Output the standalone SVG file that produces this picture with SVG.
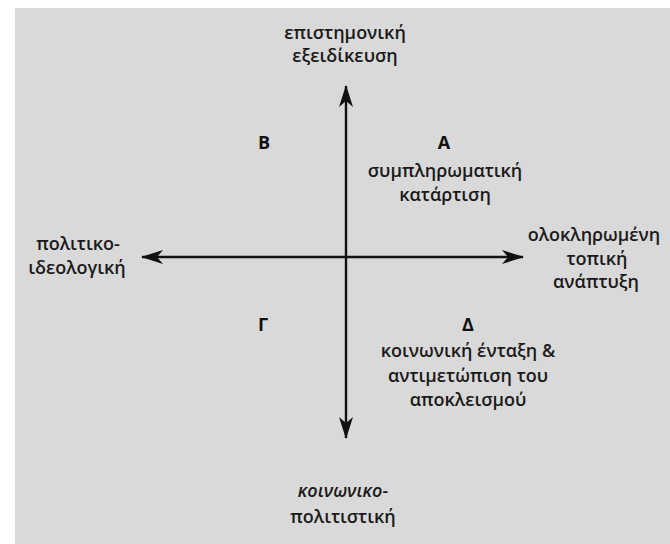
<svg xmlns="http://www.w3.org/2000/svg" width="670" height="544" viewBox="0 0 670 544">
<style>
.t{font-family:"Open Sans","Liberation Sans",sans-serif;font-size:18px;font-weight:600;fill:#1a1a1a;text-anchor:middle}
.b{font-family:"Open Sans","Liberation Sans",sans-serif;font-size:18px;font-weight:bold;fill:#111;text-anchor:middle}
.i{font-style:italic}
.ax{stroke:#111;stroke-width:2.4;fill:none}
</style>
<defs>
<marker id="ah" viewBox="0 0 22 14" refX="21" refY="7" markerWidth="22" markerHeight="14" markerUnits="userSpaceOnUse" orient="auto">
<path d="M0,0 L22,7 L0,14 L6,7 Z" fill="#111"/>
</marker>
</defs>
<rect x="0" y="0" width="670" height="544" fill="#ffffff"/>
<rect x="15" y="8" width="655" height="536" fill="#d9d9d9"/>
<g id="connectors">
<line class="ax" x1="346" y1="257" x2="346" y2="86" marker-end="url(#ah)"/>
<line class="ax" x1="346" y1="257" x2="346" y2="438" marker-end="url(#ah)"/>
<line class="ax" x1="346" y1="257" x2="142" y2="257" marker-end="url(#ah)"/>
<line class="ax" x1="346" y1="257" x2="523" y2="257" marker-end="url(#ah)"/>
</g>
<g id="top"><text class="t" x="345" y="39">επιστημονική</text><text class="t" x="345" y="62">εξειδίκευση</text></g>
<g id="quadB"><text class="b" x="264" y="149">B</text></g>
<g id="quadA"><text class="b" x="444" y="149">A</text><text class="t" x="445" y="177">συμπληρωματική</text><text class="t" x="445" y="201">κατάρτιση</text></g>
<g id="left"><text class="t" x="78" y="250">πολιτικο-</text><text class="t" x="77" y="274">ιδεολογική</text></g>
<g id="right"><text class="t" x="594" y="241">ολοκληρωμένη</text><text class="t" x="597" y="265">τοπική</text><text class="t" x="596" y="288">ανάπτυξη</text></g>
<g id="quadG"><text class="b" x="263" y="331">Γ</text></g>
<g id="quadD"><text class="b" x="468" y="331">Δ</text><text class="t" x="468" y="357">κοινωνική ένταξη &amp;</text><text class="t" x="468" y="382">αντιμετώπιση του</text><text class="t" x="468" y="406">αποκλεισμού</text></g>
<g id="bottom"><text class="t i" x="343" y="497">κοινωνικο-</text><text class="t" x="343" y="523">πολιτιστική</text></g>
</svg>
